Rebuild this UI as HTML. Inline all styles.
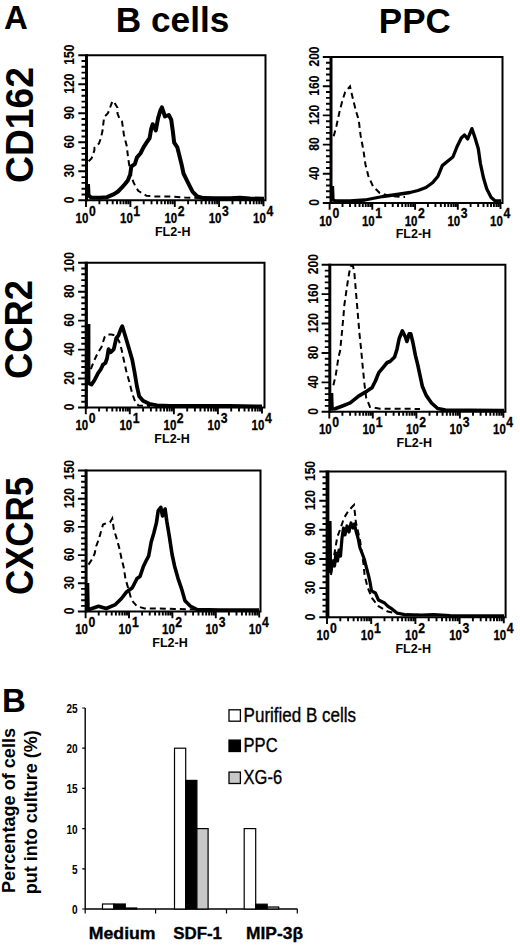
<!DOCTYPE html>
<html><head><meta charset="utf-8"><style>
html,body{margin:0;padding:0;background:#fff;}
body{width:520px;height:951px;overflow:hidden;}
svg{display:block;}
text{font-family:"Liberation Sans", sans-serif;fill:#000;}
</style></head><body>
<svg width="520" height="951" viewBox="0 0 520 951">
<text x="4.0" y="29.2" font-size="33" font-weight="bold" text-anchor="start" >A</text>
<text x="115.8" y="31.6" font-size="35" font-weight="bold" text-anchor="start" textLength="113.5" lengthAdjust="spacingAndGlyphs" >B cells</text>
<text x="378.8" y="33.2" font-size="35" font-weight="bold" text-anchor="start" textLength="72" lengthAdjust="spacingAndGlyphs" >PPC</text>
<text transform="translate(32.8,125) rotate(-90)" font-size="38.5" font-weight="bold" text-anchor="middle" textLength="116" lengthAdjust="spacingAndGlyphs" >CD162</text>
<text transform="translate(31.8,329.5) rotate(-90)" font-size="38.5" font-weight="bold" text-anchor="middle" textLength="99" lengthAdjust="spacingAndGlyphs" >CCR2</text>
<text transform="translate(32.5,536) rotate(-90)" font-size="38.5" font-weight="bold" text-anchor="middle" textLength="118" lengthAdjust="spacingAndGlyphs" >CXCR5</text>
<path d="M86.5,200.3 L265.5,200.3 L265.5,55.2 L86.5,55.2" fill="none" stroke="#000" stroke-width="2"/>
<line x1="86.5" y1="54.2" x2="86.5" y2="201.3" stroke="#000" stroke-width="3.0"/>
<path d="M78.3,200.3H86.5M81.5,194.5H86.5M81.5,188.7H86.5M81.5,182.9H86.5M81.5,177.1H86.5M78.3,171.3H86.5M81.5,165.5H86.5M81.5,159.7H86.5M81.5,153.9H86.5M81.5,148.1H86.5M78.3,142.3H86.5M81.5,136.5H86.5M81.5,130.7H86.5M81.5,124.8H86.5M81.5,119.0H86.5M78.3,113.2H86.5M81.5,107.4H86.5M81.5,101.6H86.5M81.5,95.8H86.5M81.5,90.0H86.5M78.3,84.2H86.5M81.5,78.4H86.5M81.5,72.6H86.5M81.5,66.8H86.5M81.5,61.0H86.5M78.3,55.2H86.5" stroke="#000" stroke-width="1.9" fill="none"/>
<path d="M86.0,200.3V207.10000000000002M99.4,200.3V204.3M107.2,200.3V204.3M112.7,200.3V204.3M117.0,200.3V204.3M120.5,200.3V204.3M123.5,200.3V204.3M126.1,200.3V204.3M128.3,200.3V204.3M130.4,200.3V207.10000000000002M143.7,200.3V204.3M151.5,200.3V204.3M157.1,200.3V204.3M161.4,200.3V204.3M164.9,200.3V204.3M167.9,200.3V204.3M170.4,200.3V204.3M172.7,200.3V204.3M174.8,200.3V207.10000000000002M188.1,200.3V204.3M195.9,200.3V204.3M201.5,200.3V204.3M205.8,200.3V204.3M209.3,200.3V204.3M212.3,200.3V204.3M214.8,200.3V204.3M217.1,200.3V204.3M219.1,200.3V207.10000000000002M232.5,200.3V204.3M240.3,200.3V204.3M245.8,200.3V204.3M250.1,200.3V204.3M253.7,200.3V204.3M256.6,200.3V204.3M259.2,200.3V204.3M261.5,200.3V204.3M263.5,200.3V206.3" stroke="#000" stroke-width="1.9" fill="none"/>
<text transform="translate(73.6,199.8) rotate(-90)" font-size="14.6" font-weight="bold" text-anchor="middle" textLength="6.7" lengthAdjust="spacingAndGlyphs" stroke="#000" stroke-width="0.12">0</text>
<text transform="translate(73.6,170.8) rotate(-90)" font-size="14.6" font-weight="bold" text-anchor="middle" textLength="13.4" lengthAdjust="spacingAndGlyphs" stroke="#000" stroke-width="0.12">30</text>
<text transform="translate(73.6,141.8) rotate(-90)" font-size="14.6" font-weight="bold" text-anchor="middle" textLength="13.4" lengthAdjust="spacingAndGlyphs" stroke="#000" stroke-width="0.12">60</text>
<text transform="translate(73.6,112.7) rotate(-90)" font-size="14.6" font-weight="bold" text-anchor="middle" textLength="13.4" lengthAdjust="spacingAndGlyphs" stroke="#000" stroke-width="0.12">90</text>
<text transform="translate(73.6,83.7) rotate(-90)" font-size="14.6" font-weight="bold" text-anchor="middle" textLength="20.1" lengthAdjust="spacingAndGlyphs" stroke="#000" stroke-width="0.12">120</text>
<text transform="translate(73.6,54.7) rotate(-90)" font-size="14.6" font-weight="bold" text-anchor="middle" textLength="20.1" lengthAdjust="spacingAndGlyphs" stroke="#000" stroke-width="0.12">150</text>
<text x="82.0" y="222.8" font-size="14.3" font-weight="bold" text-anchor="middle" textLength="12.8" lengthAdjust="spacingAndGlyphs" stroke="#000" stroke-width="0.3">10</text>
<text x="88.9" y="215.5" font-size="13.8" font-weight="bold" text-anchor="start" textLength="6.8" lengthAdjust="spacingAndGlyphs" stroke="#000" stroke-width="0.3">0</text>
<text x="126.4" y="222.8" font-size="14.3" font-weight="bold" text-anchor="middle" textLength="12.8" lengthAdjust="spacingAndGlyphs" stroke="#000" stroke-width="0.3">10</text>
<text x="133.3" y="215.5" font-size="13.8" font-weight="bold" text-anchor="start" textLength="6.8" lengthAdjust="spacingAndGlyphs" stroke="#000" stroke-width="0.3">1</text>
<text x="170.8" y="222.8" font-size="14.3" font-weight="bold" text-anchor="middle" textLength="12.8" lengthAdjust="spacingAndGlyphs" stroke="#000" stroke-width="0.3">10</text>
<text x="177.7" y="215.5" font-size="13.8" font-weight="bold" text-anchor="start" textLength="6.8" lengthAdjust="spacingAndGlyphs" stroke="#000" stroke-width="0.3">2</text>
<text x="215.1" y="222.8" font-size="14.3" font-weight="bold" text-anchor="middle" textLength="12.8" lengthAdjust="spacingAndGlyphs" stroke="#000" stroke-width="0.3">10</text>
<text x="222.0" y="215.5" font-size="13.8" font-weight="bold" text-anchor="start" textLength="6.8" lengthAdjust="spacingAndGlyphs" stroke="#000" stroke-width="0.3">3</text>
<text x="259.5" y="222.8" font-size="14.3" font-weight="bold" text-anchor="middle" textLength="12.8" lengthAdjust="spacingAndGlyphs" stroke="#000" stroke-width="0.3">10</text>
<text x="266.4" y="215.5" font-size="13.8" font-weight="bold" text-anchor="start" textLength="6.8" lengthAdjust="spacingAndGlyphs" stroke="#000" stroke-width="0.3">4</text>
<text x="172.7" y="235.7" font-size="12.8" font-weight="bold" text-anchor="middle" textLength="35.5" lengthAdjust="spacingAndGlyphs" >FL2-H</text>
<polyline points="88.6,161.3 91.5,158.5 94.4,150.4 94.4,148 99,143.5 100.7,138.8 102.5,130.8 103.6,121.5 104.2,116.9 107.7,113.5 108.8,111.2 111.7,103.1 113.4,100.8 117.5,107.7 117.5,113.5 119.8,119.2 122,121.5 123.2,129.6 123.8,134.2 125.5,141.2 126.7,145.8 127.8,155 128.4,159.6 129.6,167.7 131.3,175.8 133.6,182.7 138.2,190.8 141,192.5 146.5,195.8 155.8,196.5 171.2,196.5 185,197.5 200,198 215,198.5" fill="none" stroke="#000" stroke-width="2.0" stroke-dasharray="6 4"/>
<polyline points="88,184 88.5,195.4 91,197.5 100,197.8 107,197.2 114,194.2 118,191.5 122,187.3 125,184 127.8,180.4 130.2,174.6 131.3,166.5 134.8,164.2 137,157.3 140.4,153.5 143.5,147.3 146.5,142.7 149.6,138.1 151.2,128.8 152.7,124.2 155.8,130.4 158.1,118.1 160.4,110.4 161.9,107.3 165,116.5 168.8,115 171.2,119.6 172.7,130.4 174.2,142.7 177.3,147.3 179.6,156.5 181.9,165.8 183.5,173.5 186.5,179.6 189.6,185.8 192.7,191.9 197.3,196.5 203.5,198.1 215,198.3 230,198.3 240,197.8 250,198.5 264,198.8" fill="none" stroke="#000" stroke-width="4.0" stroke-linejoin="round" stroke-linecap="butt"/>
<path d="M331.0,203.0 L502.5,203.0 L502.5,57.0 L331.0,57.0" fill="none" stroke="#000" stroke-width="2"/>
<line x1="331.0" y1="56.0" x2="331.0" y2="204.0" stroke="#000" stroke-width="3.0"/>
<path d="M322.8,203.0H331.0M326.0,197.2H331.0M326.0,191.3H331.0M326.0,185.5H331.0M326.0,179.6H331.0M322.8,173.8H331.0M326.0,168.0H331.0M326.0,162.1H331.0M326.0,156.3H331.0M326.0,150.4H331.0M322.8,144.6H331.0M326.0,138.8H331.0M326.0,132.9H331.0M326.0,127.1H331.0M326.0,121.2H331.0M322.8,115.4H331.0M326.0,109.6H331.0M326.0,103.7H331.0M326.0,97.9H331.0M326.0,92.0H331.0M322.8,86.2H331.0M326.0,80.4H331.0M326.0,74.5H331.0M326.0,68.7H331.0M326.0,62.8H331.0M322.8,57.0H331.0" stroke="#000" stroke-width="1.9" fill="none"/>
<path d="M329.6,203.0V209.8M342.5,203.0V207.0M350.0,203.0V207.0M355.3,203.0V207.0M359.5,203.0V207.0M362.8,203.0V207.0M365.7,203.0V207.0M368.2,203.0V207.0M370.4,203.0V207.0M372.3,203.0V209.8M385.2,203.0V207.0M392.7,203.0V207.0M398.0,203.0V207.0M402.2,203.0V207.0M405.6,203.0V207.0M408.4,203.0V207.0M410.9,203.0V207.0M413.1,203.0V207.0M415.1,203.0V209.8M427.9,203.0V207.0M435.4,203.0V207.0M440.8,203.0V207.0M444.9,203.0V207.0M448.3,203.0V207.0M451.2,203.0V207.0M453.6,203.0V207.0M455.8,203.0V207.0M457.8,203.0V209.8M470.6,203.0V207.0M478.2,203.0V207.0M483.5,203.0V207.0M487.6,203.0V207.0M491.0,203.0V207.0M493.9,203.0V207.0M496.4,203.0V207.0M498.5,203.0V207.0M500.5,203.0V209.0" stroke="#000" stroke-width="1.9" fill="none"/>
<text transform="translate(319.3,202.5) rotate(-90)" font-size="14.6" font-weight="bold" text-anchor="middle" textLength="6.7" lengthAdjust="spacingAndGlyphs" stroke="#000" stroke-width="0.12">0</text>
<text transform="translate(319.3,173.3) rotate(-90)" font-size="14.6" font-weight="bold" text-anchor="middle" textLength="13.4" lengthAdjust="spacingAndGlyphs" stroke="#000" stroke-width="0.12">40</text>
<text transform="translate(319.3,144.1) rotate(-90)" font-size="14.6" font-weight="bold" text-anchor="middle" textLength="13.4" lengthAdjust="spacingAndGlyphs" stroke="#000" stroke-width="0.12">80</text>
<text transform="translate(319.3,114.9) rotate(-90)" font-size="14.6" font-weight="bold" text-anchor="middle" textLength="20.1" lengthAdjust="spacingAndGlyphs" stroke="#000" stroke-width="0.12">120</text>
<text transform="translate(319.3,85.7) rotate(-90)" font-size="14.6" font-weight="bold" text-anchor="middle" textLength="20.1" lengthAdjust="spacingAndGlyphs" stroke="#000" stroke-width="0.12">160</text>
<text transform="translate(319.3,56.5) rotate(-90)" font-size="14.6" font-weight="bold" text-anchor="middle" textLength="20.1" lengthAdjust="spacingAndGlyphs" stroke="#000" stroke-width="0.12">200</text>
<text x="325.6" y="225.5" font-size="14.3" font-weight="bold" text-anchor="middle" textLength="12.8" lengthAdjust="spacingAndGlyphs" stroke="#000" stroke-width="0.3">10</text>
<text x="332.5" y="218.2" font-size="13.8" font-weight="bold" text-anchor="start" textLength="6.8" lengthAdjust="spacingAndGlyphs" stroke="#000" stroke-width="0.3">0</text>
<text x="368.3" y="225.5" font-size="14.3" font-weight="bold" text-anchor="middle" textLength="12.8" lengthAdjust="spacingAndGlyphs" stroke="#000" stroke-width="0.3">10</text>
<text x="375.2" y="218.2" font-size="13.8" font-weight="bold" text-anchor="start" textLength="6.8" lengthAdjust="spacingAndGlyphs" stroke="#000" stroke-width="0.3">1</text>
<text x="411.1" y="225.5" font-size="14.3" font-weight="bold" text-anchor="middle" textLength="12.8" lengthAdjust="spacingAndGlyphs" stroke="#000" stroke-width="0.3">10</text>
<text x="417.9" y="218.2" font-size="13.8" font-weight="bold" text-anchor="start" textLength="6.8" lengthAdjust="spacingAndGlyphs" stroke="#000" stroke-width="0.3">2</text>
<text x="453.8" y="225.5" font-size="14.3" font-weight="bold" text-anchor="middle" textLength="12.8" lengthAdjust="spacingAndGlyphs" stroke="#000" stroke-width="0.3">10</text>
<text x="460.7" y="218.2" font-size="13.8" font-weight="bold" text-anchor="start" textLength="6.8" lengthAdjust="spacingAndGlyphs" stroke="#000" stroke-width="0.3">3</text>
<text x="496.5" y="225.5" font-size="14.3" font-weight="bold" text-anchor="middle" textLength="12.8" lengthAdjust="spacingAndGlyphs" stroke="#000" stroke-width="0.3">10</text>
<text x="503.4" y="218.2" font-size="13.8" font-weight="bold" text-anchor="start" textLength="6.8" lengthAdjust="spacingAndGlyphs" stroke="#000" stroke-width="0.3">4</text>
<text x="413.4" y="238.4" font-size="12.8" font-weight="bold" text-anchor="middle" textLength="35.5" lengthAdjust="spacingAndGlyphs" >FL2-H</text>
<polyline points="333.7,136.3 336.5,125.8 339.4,112.3 342.3,100.8 345.2,92 350,86.3 352.9,98.8 355.8,110.4 358.7,120 360.6,135.4 363.5,150.8 365.4,164.2 368.3,175.8 373,186.3 379.8,193 390,196 405,197" fill="none" stroke="#000" stroke-width="2.0" stroke-dasharray="6 4"/>
<polyline points="332.5,186 333,200 336,201 350,201 365,200 382.7,196.5 397,194.5 410,192.5 418,190.5 426,187.5 432.8,182.5 438,176.2 442.3,165.6 447.6,161.3 452.9,157 457.1,146.5 461.3,138 464.5,134.9 467.7,139 471.9,128.6 475.1,138 478.3,148.7 480.4,163.5 483.6,178.3 486.7,188.8 491,197.3 495.2,201 501,201" fill="none" stroke="#000" stroke-width="3.3" stroke-linejoin="round" stroke-linecap="butt"/>
<path d="M86.3,407.5 L264.5,407.5 L264.5,262.7 L86.3,262.7" fill="none" stroke="#000" stroke-width="2"/>
<line x1="86.3" y1="261.7" x2="86.3" y2="408.5" stroke="#000" stroke-width="3.2"/>
<path d="M78.1,407.5H86.3M81.3,401.7H86.3M81.3,395.9H86.3M81.3,390.1H86.3M81.3,384.3H86.3M78.1,378.5H86.3M81.3,372.7H86.3M81.3,367.0H86.3M81.3,361.2H86.3M81.3,355.4H86.3M78.1,349.6H86.3M81.3,343.8H86.3M81.3,338.0H86.3M81.3,332.2H86.3M81.3,326.4H86.3M78.1,320.6H86.3M81.3,314.8H86.3M81.3,309.0H86.3M81.3,303.2H86.3M81.3,297.5H86.3M78.1,291.7H86.3M81.3,285.9H86.3M81.3,280.1H86.3M81.3,274.3H86.3M81.3,268.5H86.3M78.1,262.7H86.3" stroke="#000" stroke-width="1.9" fill="none"/>
<path d="M85.8,407.5V414.3M99.1,407.5V411.5M106.8,407.5V411.5M112.3,407.5V411.5M116.6,407.5V411.5M120.1,407.5V411.5M123.0,407.5V411.5M125.6,407.5V411.5M127.8,407.5V411.5M129.8,407.5V414.3M143.1,407.5V411.5M150.9,407.5V411.5M156.4,407.5V411.5M160.6,407.5V411.5M164.1,407.5V411.5M167.1,407.5V411.5M169.6,407.5V411.5M171.9,407.5V411.5M173.9,407.5V414.3M187.2,407.5V411.5M194.9,407.5V411.5M200.4,407.5V411.5M204.7,407.5V411.5M208.2,407.5V411.5M211.1,407.5V411.5M213.7,407.5V411.5M215.9,407.5V411.5M217.9,407.5V414.3M231.2,407.5V411.5M239.0,407.5V411.5M244.5,407.5V411.5M248.7,407.5V411.5M252.2,407.5V411.5M255.2,407.5V411.5M257.7,407.5V411.5M260.0,407.5V411.5M262.0,407.5V413.5" stroke="#000" stroke-width="1.9" fill="none"/>
<text transform="translate(73.5,407.0) rotate(-90)" font-size="14.6" font-weight="bold" text-anchor="middle" textLength="6.7" lengthAdjust="spacingAndGlyphs" stroke="#000" stroke-width="0.12">0</text>
<text transform="translate(73.5,378.0) rotate(-90)" font-size="14.6" font-weight="bold" text-anchor="middle" textLength="13.4" lengthAdjust="spacingAndGlyphs" stroke="#000" stroke-width="0.12">20</text>
<text transform="translate(73.5,349.1) rotate(-90)" font-size="14.6" font-weight="bold" text-anchor="middle" textLength="13.4" lengthAdjust="spacingAndGlyphs" stroke="#000" stroke-width="0.12">40</text>
<text transform="translate(73.5,320.1) rotate(-90)" font-size="14.6" font-weight="bold" text-anchor="middle" textLength="13.4" lengthAdjust="spacingAndGlyphs" stroke="#000" stroke-width="0.12">60</text>
<text transform="translate(73.5,291.2) rotate(-90)" font-size="14.6" font-weight="bold" text-anchor="middle" textLength="13.4" lengthAdjust="spacingAndGlyphs" stroke="#000" stroke-width="0.12">80</text>
<text transform="translate(73.5,262.2) rotate(-90)" font-size="14.6" font-weight="bold" text-anchor="middle" textLength="20.1" lengthAdjust="spacingAndGlyphs" stroke="#000" stroke-width="0.12">100</text>
<text x="81.8" y="430.0" font-size="14.3" font-weight="bold" text-anchor="middle" textLength="12.8" lengthAdjust="spacingAndGlyphs" stroke="#000" stroke-width="0.3">10</text>
<text x="88.7" y="422.7" font-size="13.8" font-weight="bold" text-anchor="start" textLength="6.8" lengthAdjust="spacingAndGlyphs" stroke="#000" stroke-width="0.3">0</text>
<text x="125.8" y="430.0" font-size="14.3" font-weight="bold" text-anchor="middle" textLength="12.8" lengthAdjust="spacingAndGlyphs" stroke="#000" stroke-width="0.3">10</text>
<text x="132.8" y="422.7" font-size="13.8" font-weight="bold" text-anchor="start" textLength="6.8" lengthAdjust="spacingAndGlyphs" stroke="#000" stroke-width="0.3">1</text>
<text x="169.9" y="430.0" font-size="14.3" font-weight="bold" text-anchor="middle" textLength="12.8" lengthAdjust="spacingAndGlyphs" stroke="#000" stroke-width="0.3">10</text>
<text x="176.8" y="422.7" font-size="13.8" font-weight="bold" text-anchor="start" textLength="6.8" lengthAdjust="spacingAndGlyphs" stroke="#000" stroke-width="0.3">2</text>
<text x="213.9" y="430.0" font-size="14.3" font-weight="bold" text-anchor="middle" textLength="12.8" lengthAdjust="spacingAndGlyphs" stroke="#000" stroke-width="0.3">10</text>
<text x="220.8" y="422.7" font-size="13.8" font-weight="bold" text-anchor="start" textLength="6.8" lengthAdjust="spacingAndGlyphs" stroke="#000" stroke-width="0.3">3</text>
<text x="258.0" y="430.0" font-size="14.3" font-weight="bold" text-anchor="middle" textLength="12.8" lengthAdjust="spacingAndGlyphs" stroke="#000" stroke-width="0.3">10</text>
<text x="264.9" y="422.7" font-size="13.8" font-weight="bold" text-anchor="start" textLength="6.8" lengthAdjust="spacingAndGlyphs" stroke="#000" stroke-width="0.3">4</text>
<text x="172.1" y="442.9" font-size="12.8" font-weight="bold" text-anchor="middle" textLength="35.5" lengthAdjust="spacingAndGlyphs" >FL2-H</text>
<polyline points="90.8,369.2 93.8,361.5 97.7,353 101.5,347 104.6,337 107,334.6 111.5,334.6 115.4,335.4 119.2,341.5 121.5,349.2 123.8,360 126.2,370.8 129.2,381.5 132.3,393.8 135.4,402.3 138.5,405.4 150,406" fill="none" stroke="#000" stroke-width="2.0" stroke-dasharray="6 4"/>
<polyline points="88.5,324 88.5,383 91.5,384.6 94.6,380 97.7,373.8 100.8,369.2 103,364.6 105.4,363 107,358.5 108.5,349.2 110.8,352.3 113.8,349.2 116.2,338.5 118.5,335.4 120.8,329.2 122.3,326.2 124.6,333.8 126.9,341.5 129.2,349.2 132.3,360 134.6,372.3 136.9,386.2 139.2,396.2 143,400.8 149.2,403.8 157,405.4 170,405.8 200,406 230,406 262,406.5" fill="none" stroke="#000" stroke-width="3.8" stroke-linejoin="round" stroke-linecap="butt"/>
<path d="M329.8,411.8 L505.4,411.8 L505.4,264.7 L329.8,264.7" fill="none" stroke="#000" stroke-width="2"/>
<line x1="329.8" y1="263.7" x2="329.8" y2="412.8" stroke="#000" stroke-width="3.0"/>
<path d="M321.6,411.8H329.8M324.8,405.9H329.8M324.8,400.0H329.8M324.8,394.1H329.8M324.8,388.3H329.8M321.6,382.4H329.8M324.8,376.5H329.8M324.8,370.6H329.8M324.8,364.7H329.8M324.8,358.8H329.8M321.6,353.0H329.8M324.8,347.1H329.8M324.8,341.2H329.8M324.8,335.3H329.8M324.8,329.4H329.8M321.6,323.5H329.8M324.8,317.7H329.8M324.8,311.8H329.8M324.8,305.9H329.8M324.8,300.0H329.8M321.6,294.1H329.8M324.8,288.2H329.8M324.8,282.4H329.8M324.8,276.5H329.8M324.8,270.6H329.8M321.6,264.7H329.8" stroke="#000" stroke-width="1.9" fill="none"/>
<path d="M329.3,411.8V418.6M342.4,411.8V415.8M350.1,411.8V415.8M355.5,411.8V415.8M359.7,411.8V415.8M363.2,411.8V415.8M366.1,411.8V415.8M368.6,411.8V415.8M370.8,411.8V415.8M372.8,411.8V418.6M385.9,411.8V415.8M393.6,411.8V415.8M399.0,411.8V415.8M403.2,411.8V415.8M406.7,411.8V415.8M409.6,411.8V415.8M412.1,411.8V415.8M414.4,411.8V415.8M416.4,411.8V418.6M429.5,411.8V415.8M437.1,411.8V415.8M442.6,411.8V415.8M446.8,411.8V415.8M450.2,411.8V415.8M453.1,411.8V415.8M455.7,411.8V415.8M457.9,411.8V415.8M459.9,411.8V418.6M473.0,411.8V415.8M480.6,411.8V415.8M486.1,411.8V415.8M490.3,411.8V415.8M493.7,411.8V415.8M496.7,411.8V415.8M499.2,411.8V415.8M501.4,411.8V415.8M503.4,411.8V417.8" stroke="#000" stroke-width="1.9" fill="none"/>
<text transform="translate(318.2,411.3) rotate(-90)" font-size="14.6" font-weight="bold" text-anchor="middle" textLength="6.7" lengthAdjust="spacingAndGlyphs" stroke="#000" stroke-width="0.12">0</text>
<text transform="translate(318.2,381.9) rotate(-90)" font-size="14.6" font-weight="bold" text-anchor="middle" textLength="13.4" lengthAdjust="spacingAndGlyphs" stroke="#000" stroke-width="0.12">40</text>
<text transform="translate(318.2,352.5) rotate(-90)" font-size="14.6" font-weight="bold" text-anchor="middle" textLength="13.4" lengthAdjust="spacingAndGlyphs" stroke="#000" stroke-width="0.12">80</text>
<text transform="translate(318.2,323.0) rotate(-90)" font-size="14.6" font-weight="bold" text-anchor="middle" textLength="20.1" lengthAdjust="spacingAndGlyphs" stroke="#000" stroke-width="0.12">120</text>
<text transform="translate(318.2,293.6) rotate(-90)" font-size="14.6" font-weight="bold" text-anchor="middle" textLength="20.1" lengthAdjust="spacingAndGlyphs" stroke="#000" stroke-width="0.12">160</text>
<text transform="translate(318.2,264.2) rotate(-90)" font-size="14.6" font-weight="bold" text-anchor="middle" textLength="20.1" lengthAdjust="spacingAndGlyphs" stroke="#000" stroke-width="0.12">200</text>
<text x="325.3" y="434.3" font-size="14.3" font-weight="bold" text-anchor="middle" textLength="12.8" lengthAdjust="spacingAndGlyphs" stroke="#000" stroke-width="0.3">10</text>
<text x="332.2" y="427.0" font-size="13.8" font-weight="bold" text-anchor="start" textLength="6.8" lengthAdjust="spacingAndGlyphs" stroke="#000" stroke-width="0.3">0</text>
<text x="368.8" y="434.3" font-size="14.3" font-weight="bold" text-anchor="middle" textLength="12.8" lengthAdjust="spacingAndGlyphs" stroke="#000" stroke-width="0.3">10</text>
<text x="375.7" y="427.0" font-size="13.8" font-weight="bold" text-anchor="start" textLength="6.8" lengthAdjust="spacingAndGlyphs" stroke="#000" stroke-width="0.3">1</text>
<text x="412.4" y="434.3" font-size="14.3" font-weight="bold" text-anchor="middle" textLength="12.8" lengthAdjust="spacingAndGlyphs" stroke="#000" stroke-width="0.3">10</text>
<text x="419.2" y="427.0" font-size="13.8" font-weight="bold" text-anchor="start" textLength="6.8" lengthAdjust="spacingAndGlyphs" stroke="#000" stroke-width="0.3">2</text>
<text x="455.9" y="434.3" font-size="14.3" font-weight="bold" text-anchor="middle" textLength="12.8" lengthAdjust="spacingAndGlyphs" stroke="#000" stroke-width="0.3">10</text>
<text x="462.8" y="427.0" font-size="13.8" font-weight="bold" text-anchor="start" textLength="6.8" lengthAdjust="spacingAndGlyphs" stroke="#000" stroke-width="0.3">3</text>
<text x="499.4" y="434.3" font-size="14.3" font-weight="bold" text-anchor="middle" textLength="12.8" lengthAdjust="spacingAndGlyphs" stroke="#000" stroke-width="0.3">10</text>
<text x="506.3" y="427.0" font-size="13.8" font-weight="bold" text-anchor="start" textLength="6.8" lengthAdjust="spacingAndGlyphs" stroke="#000" stroke-width="0.3">4</text>
<text x="414.3" y="447.2" font-size="12.8" font-weight="bold" text-anchor="middle" textLength="35.5" lengthAdjust="spacingAndGlyphs" >FL2-H</text>
<polyline points="333.4,385.2 335.9,374.3 338.4,357.5 340.1,350.8 341.8,334 343.5,315.5 344.3,305.4 346,293.6 347.7,281.8 349.4,271.8 351,265.9 353,266 354.4,273.4 356.1,293.6 357.8,313.8 359.5,334 361.1,349 362.8,367.6 364.5,384.4 366.2,397.8 370,407 380,408.7 400,408.7 420,409" fill="none" stroke="#000" stroke-width="2.0" stroke-dasharray="6 4"/>
<polyline points="331.5,393 332,409 335,408.7 341.8,406.2 350.2,402.9 358.6,396.1 367,391.1 372,387.7 375.4,381 378.8,372.6 383,367.6 387.2,362.5 390,361.5 394.6,357 397,349.2 399.2,338.5 402.3,330.8 405.4,337 406.9,341.5 409.2,333.8 410.8,333.8 413,343 415.4,355.4 417.7,364.6 420,375.4 422.3,386.2 426.2,395.4 431.5,403 437.7,408.5 445.4,410 470,410.3 504,410.5" fill="none" stroke="#000" stroke-width="3.6" stroke-linejoin="round" stroke-linecap="butt"/>
<path d="M86.1,611.5 L260.5,611.5 L260.5,470.5 L86.1,470.5" fill="none" stroke="#000" stroke-width="2"/>
<line x1="86.1" y1="469.5" x2="86.1" y2="612.5" stroke="#000" stroke-width="3.0"/>
<path d="M77.9,611.5H86.1M81.1,605.9H86.1M81.1,600.2H86.1M81.1,594.6H86.1M81.1,588.9H86.1M77.9,583.3H86.1M81.1,577.7H86.1M81.1,572.0H86.1M81.1,566.4H86.1M81.1,560.7H86.1M77.9,555.1H86.1M81.1,549.5H86.1M81.1,543.8H86.1M81.1,538.2H86.1M81.1,532.5H86.1M77.9,526.9H86.1M81.1,521.3H86.1M81.1,515.6H86.1M81.1,510.0H86.1M81.1,504.3H86.1M77.9,498.7H86.1M81.1,493.1H86.1M81.1,487.4H86.1M81.1,481.8H86.1M81.1,476.1H86.1M77.9,470.5H86.1" stroke="#000" stroke-width="1.9" fill="none"/>
<path d="M85.6,611.5V618.3M98.7,611.5V615.5M106.3,611.5V615.5M111.7,611.5V615.5M115.9,611.5V615.5M119.4,611.5V615.5M122.3,611.5V615.5M124.8,611.5V615.5M127.0,611.5V615.5M129.0,611.5V618.3M142.1,611.5V615.5M149.7,611.5V615.5M155.1,611.5V615.5M159.3,611.5V615.5M162.8,611.5V615.5M165.7,611.5V615.5M168.2,611.5V615.5M170.4,611.5V615.5M172.4,611.5V618.3M185.5,611.5V615.5M193.1,611.5V615.5M198.5,611.5V615.5M202.7,611.5V615.5M206.2,611.5V615.5M209.1,611.5V615.5M211.6,611.5V615.5M213.8,611.5V615.5M215.8,611.5V618.3M228.9,611.5V615.5M236.5,611.5V615.5M241.9,611.5V615.5M246.1,611.5V615.5M249.6,611.5V615.5M252.5,611.5V615.5M255.0,611.5V615.5M257.2,611.5V615.5M259.2,611.5V617.5" stroke="#000" stroke-width="1.9" fill="none"/>
<text transform="translate(74.4,611.0) rotate(-90)" font-size="14.6" font-weight="bold" text-anchor="middle" textLength="6.7" lengthAdjust="spacingAndGlyphs" stroke="#000" stroke-width="0.12">0</text>
<text transform="translate(74.4,582.8) rotate(-90)" font-size="14.6" font-weight="bold" text-anchor="middle" textLength="13.4" lengthAdjust="spacingAndGlyphs" stroke="#000" stroke-width="0.12">30</text>
<text transform="translate(74.4,554.6) rotate(-90)" font-size="14.6" font-weight="bold" text-anchor="middle" textLength="13.4" lengthAdjust="spacingAndGlyphs" stroke="#000" stroke-width="0.12">60</text>
<text transform="translate(74.4,526.4) rotate(-90)" font-size="14.6" font-weight="bold" text-anchor="middle" textLength="13.4" lengthAdjust="spacingAndGlyphs" stroke="#000" stroke-width="0.12">90</text>
<text transform="translate(74.4,498.2) rotate(-90)" font-size="14.6" font-weight="bold" text-anchor="middle" textLength="20.1" lengthAdjust="spacingAndGlyphs" stroke="#000" stroke-width="0.12">120</text>
<text transform="translate(74.4,470.0) rotate(-90)" font-size="14.6" font-weight="bold" text-anchor="middle" textLength="20.1" lengthAdjust="spacingAndGlyphs" stroke="#000" stroke-width="0.12">150</text>
<text x="81.6" y="634.0" font-size="14.3" font-weight="bold" text-anchor="middle" textLength="12.8" lengthAdjust="spacingAndGlyphs" stroke="#000" stroke-width="0.3">10</text>
<text x="88.5" y="626.7" font-size="13.8" font-weight="bold" text-anchor="start" textLength="6.8" lengthAdjust="spacingAndGlyphs" stroke="#000" stroke-width="0.3">0</text>
<text x="125.0" y="634.0" font-size="14.3" font-weight="bold" text-anchor="middle" textLength="12.8" lengthAdjust="spacingAndGlyphs" stroke="#000" stroke-width="0.3">10</text>
<text x="131.9" y="626.7" font-size="13.8" font-weight="bold" text-anchor="start" textLength="6.8" lengthAdjust="spacingAndGlyphs" stroke="#000" stroke-width="0.3">1</text>
<text x="168.4" y="634.0" font-size="14.3" font-weight="bold" text-anchor="middle" textLength="12.8" lengthAdjust="spacingAndGlyphs" stroke="#000" stroke-width="0.3">10</text>
<text x="175.3" y="626.7" font-size="13.8" font-weight="bold" text-anchor="start" textLength="6.8" lengthAdjust="spacingAndGlyphs" stroke="#000" stroke-width="0.3">2</text>
<text x="211.8" y="634.0" font-size="14.3" font-weight="bold" text-anchor="middle" textLength="12.8" lengthAdjust="spacingAndGlyphs" stroke="#000" stroke-width="0.3">10</text>
<text x="218.7" y="626.7" font-size="13.8" font-weight="bold" text-anchor="start" textLength="6.8" lengthAdjust="spacingAndGlyphs" stroke="#000" stroke-width="0.3">3</text>
<text x="255.2" y="634.0" font-size="14.3" font-weight="bold" text-anchor="middle" textLength="12.8" lengthAdjust="spacingAndGlyphs" stroke="#000" stroke-width="0.3">10</text>
<text x="262.1" y="626.7" font-size="13.8" font-weight="bold" text-anchor="start" textLength="6.8" lengthAdjust="spacingAndGlyphs" stroke="#000" stroke-width="0.3">4</text>
<text x="170.0" y="646.9" font-size="12.8" font-weight="bold" text-anchor="middle" textLength="35.5" lengthAdjust="spacingAndGlyphs" >FL2-H</text>
<polyline points="88.5,564.6 91.5,560 94.6,553.8 96.2,546.2 98.5,540 100.8,532.3 103,524.6 107,523 110,522.3 112.3,518.5 113.8,529.2 116.2,537 119.2,547.7 121.5,558.5 123.8,567.7 125.4,578.5 128.5,589.2 131.5,600 137,606.2 144.6,608.5 155.4,608.5 175,609 200,609.5" fill="none" stroke="#000" stroke-width="2.0" stroke-dasharray="6 4"/>
<polyline points="87.5,583 88,610 92,608.5 98.5,606.2 106.2,608.5 115.4,604.6 121.5,598.5 126.2,592.3 132.3,587.7 137,578.5 140,576.5 143.5,566.2 146,561 148.7,555.8 151.2,542 153.8,533.3 156.4,522.9 158.2,510.8 160.8,507.3 162.5,516 165.1,509 166.8,521.2 169.4,536.7 172,554 174.6,566.2 178,578.3 181.5,588.6 185,600.8 190.2,606 197.1,609.5 220,610 259,610" fill="none" stroke="#000" stroke-width="3.6" stroke-linejoin="round" stroke-linecap="butt"/>
<path d="M327.5,617.3 L505.6,617.3 L505.6,471.5 L327.5,471.5" fill="none" stroke="#000" stroke-width="2"/>
<line x1="327.5" y1="470.5" x2="327.5" y2="618.3" stroke="#000" stroke-width="3.8"/>
<path d="M319.3,617.3H327.5M322.5,611.5H327.5M322.5,605.6H327.5M322.5,599.8H327.5M322.5,594.0H327.5M319.3,588.1H327.5M322.5,582.3H327.5M322.5,576.5H327.5M322.5,570.6H327.5M322.5,564.8H327.5M319.3,559.0H327.5M322.5,553.1H327.5M322.5,547.3H327.5M322.5,541.5H327.5M322.5,535.7H327.5M319.3,529.8H327.5M322.5,524.0H327.5M322.5,518.2H327.5M322.5,512.3H327.5M322.5,506.5H327.5M319.3,500.7H327.5M322.5,494.8H327.5M322.5,489.0H327.5M322.5,483.2H327.5M322.5,477.3H327.5M319.3,471.5H327.5" stroke="#000" stroke-width="1.9" fill="none"/>
<path d="M327.0,617.3V624.0999999999999M340.3,617.3V621.3M348.1,617.3V621.3M353.6,617.3V621.3M357.9,617.3V621.3M361.4,617.3V621.3M364.4,617.3V621.3M366.9,617.3V621.3M369.2,617.3V621.3M371.2,617.3V624.0999999999999M384.5,617.3V621.3M392.3,617.3V621.3M397.8,617.3V621.3M402.1,617.3V621.3M405.6,617.3V621.3M408.6,617.3V621.3M411.1,617.3V621.3M413.4,617.3V621.3M415.4,617.3V624.0999999999999M428.7,617.3V621.3M436.5,617.3V621.3M442.0,617.3V621.3M446.3,617.3V621.3M449.8,617.3V621.3M452.8,617.3V621.3M455.3,617.3V621.3M457.6,617.3V621.3M459.6,617.3V624.0999999999999M472.9,617.3V621.3M480.7,617.3V621.3M486.2,617.3V621.3M490.5,617.3V621.3M494.0,617.3V621.3M497.0,617.3V621.3M499.5,617.3V621.3M501.8,617.3V621.3M503.8,617.3V623.3" stroke="#000" stroke-width="1.9" fill="none"/>
<text transform="translate(315.4,616.8) rotate(-90)" font-size="14.6" font-weight="bold" text-anchor="middle" textLength="6.7" lengthAdjust="spacingAndGlyphs" stroke="#000" stroke-width="0.12">0</text>
<text transform="translate(315.4,587.6) rotate(-90)" font-size="14.6" font-weight="bold" text-anchor="middle" textLength="13.4" lengthAdjust="spacingAndGlyphs" stroke="#000" stroke-width="0.12">30</text>
<text transform="translate(315.4,558.5) rotate(-90)" font-size="14.6" font-weight="bold" text-anchor="middle" textLength="13.4" lengthAdjust="spacingAndGlyphs" stroke="#000" stroke-width="0.12">60</text>
<text transform="translate(315.4,529.3) rotate(-90)" font-size="14.6" font-weight="bold" text-anchor="middle" textLength="13.4" lengthAdjust="spacingAndGlyphs" stroke="#000" stroke-width="0.12">90</text>
<text transform="translate(315.4,500.2) rotate(-90)" font-size="14.6" font-weight="bold" text-anchor="middle" textLength="20.1" lengthAdjust="spacingAndGlyphs" stroke="#000" stroke-width="0.12">120</text>
<text transform="translate(315.4,471.0) rotate(-90)" font-size="14.6" font-weight="bold" text-anchor="middle" textLength="20.1" lengthAdjust="spacingAndGlyphs" stroke="#000" stroke-width="0.12">150</text>
<text x="323.0" y="639.8" font-size="14.3" font-weight="bold" text-anchor="middle" textLength="12.8" lengthAdjust="spacingAndGlyphs" stroke="#000" stroke-width="0.3">10</text>
<text x="329.9" y="632.5" font-size="13.8" font-weight="bold" text-anchor="start" textLength="6.8" lengthAdjust="spacingAndGlyphs" stroke="#000" stroke-width="0.3">0</text>
<text x="367.2" y="639.8" font-size="14.3" font-weight="bold" text-anchor="middle" textLength="12.8" lengthAdjust="spacingAndGlyphs" stroke="#000" stroke-width="0.3">10</text>
<text x="374.1" y="632.5" font-size="13.8" font-weight="bold" text-anchor="start" textLength="6.8" lengthAdjust="spacingAndGlyphs" stroke="#000" stroke-width="0.3">1</text>
<text x="411.4" y="639.8" font-size="14.3" font-weight="bold" text-anchor="middle" textLength="12.8" lengthAdjust="spacingAndGlyphs" stroke="#000" stroke-width="0.3">10</text>
<text x="418.3" y="632.5" font-size="13.8" font-weight="bold" text-anchor="start" textLength="6.8" lengthAdjust="spacingAndGlyphs" stroke="#000" stroke-width="0.3">2</text>
<text x="455.6" y="639.8" font-size="14.3" font-weight="bold" text-anchor="middle" textLength="12.8" lengthAdjust="spacingAndGlyphs" stroke="#000" stroke-width="0.3">10</text>
<text x="462.5" y="632.5" font-size="13.8" font-weight="bold" text-anchor="start" textLength="6.8" lengthAdjust="spacingAndGlyphs" stroke="#000" stroke-width="0.3">3</text>
<text x="499.8" y="639.8" font-size="14.3" font-weight="bold" text-anchor="middle" textLength="12.8" lengthAdjust="spacingAndGlyphs" stroke="#000" stroke-width="0.3">10</text>
<text x="506.7" y="632.5" font-size="13.8" font-weight="bold" text-anchor="start" textLength="6.8" lengthAdjust="spacingAndGlyphs" stroke="#000" stroke-width="0.3">4</text>
<text x="413.2" y="652.7" font-size="12.8" font-weight="bold" text-anchor="middle" textLength="35.5" lengthAdjust="spacingAndGlyphs" >FL2-H</text>
<polyline points="331,575 333.5,559 337.3,537 341,527 344,518 348,511.5 352,507 354,505 355,514 356,523 360,540 363.5,564 364.6,575.4 367.7,587.7 372.3,598.5 378.5,606.2 387.7,611.5 400,614 420,615" fill="none" stroke="#000" stroke-width="2.0" stroke-dasharray="6 4"/>
<polyline points="330,521 330.5,572 333,562 334.5,566 336,553 337.5,561 339,550 340.5,556 342,538 343.5,528 345,535 347,526 349,532 351,523 353,528 354.5,524 356,531 358,538 360,548 362,553 364.6,560 366,566 368.5,575.4 370,582 371.5,590.8 375.4,593 378.5,600 384.6,603 387.7,606.2 392.3,609.2 397,613 404.6,614.6 421.5,615 433.8,614.6 450,615.5 504,615.8" fill="none" stroke="#000" stroke-width="3.2" stroke-linejoin="round" stroke-linecap="butt"/>
<text x="2.0" y="711.5" font-size="33" font-weight="bold" text-anchor="start" >B</text>
<text transform="translate(15.2,810.5) rotate(-90)" font-size="18" font-weight="bold" text-anchor="middle" textLength="165" lengthAdjust="spacingAndGlyphs" >Percentage of cells</text>
<text transform="translate(37.2,812.3) rotate(-90)" font-size="18" font-weight="bold" text-anchor="middle" textLength="164" lengthAdjust="spacingAndGlyphs" >put into culture (%)</text>
<line x1="85.2" y1="909.5" x2="85.2" y2="708.0" stroke="#000" stroke-width="1.4"/>
<line x1="85.2" y1="909.0" x2="297.5" y2="909.0" stroke="#000" stroke-width="1.3"/>
<path d="M82.2,909.0H85.2M82.2,868.8H85.2M82.2,828.6H85.2M82.2,788.4H85.2M82.2,748.2H85.2M82.2,708.0H85.2M85.2,909.0V913.5M155.6,909.0V913.5M226.5,909.0V913.5M297.3,909.0V913.5" stroke="#000" stroke-width="1.2" fill="none"/>
<text x="77.6" y="914.0" font-size="13" font-weight="bold" text-anchor="end" textLength="5.6" lengthAdjust="spacingAndGlyphs" >0</text>
<text x="77.6" y="873.8" font-size="13" font-weight="bold" text-anchor="end" textLength="5.6" lengthAdjust="spacingAndGlyphs" >5</text>
<text x="77.6" y="833.6" font-size="13" font-weight="bold" text-anchor="end" textLength="11.2" lengthAdjust="spacingAndGlyphs" >10</text>
<text x="77.6" y="793.4" font-size="13" font-weight="bold" text-anchor="end" textLength="11.2" lengthAdjust="spacingAndGlyphs" >15</text>
<text x="77.6" y="753.2" font-size="13" font-weight="bold" text-anchor="end" textLength="11.2" lengthAdjust="spacingAndGlyphs" >20</text>
<text x="77.6" y="713.0" font-size="13" font-weight="bold" text-anchor="end" textLength="11.2" lengthAdjust="spacingAndGlyphs" >25</text>
<rect x="102.5" y="904.0" width="11.4" height="5.0" fill="#fff" stroke="#000" stroke-width="1.2"/>
<rect x="113.9" y="904.0" width="11.4" height="5.0" fill="#000" stroke="#000" stroke-width="1.2"/>
<rect x="125.3" y="908.0" width="11.4" height="1.0" fill="#c8c8c8" stroke="#000" stroke-width="1.2"/>
<rect x="174.5" y="748.2" width="11.2" height="160.8" fill="#fff" stroke="#000" stroke-width="1.2"/>
<rect x="185.7" y="780.4" width="11.2" height="128.6" fill="#000" stroke="#000" stroke-width="1.2"/>
<rect x="196.9" y="828.6" width="11.2" height="80.4" fill="#c8c8c8" stroke="#000" stroke-width="1.2"/>
<rect x="244.2" y="828.6" width="11.5" height="80.4" fill="#fff" stroke="#000" stroke-width="1.2"/>
<rect x="255.7" y="904.2" width="11.5" height="4.8" fill="#000" stroke="#000" stroke-width="1.2"/>
<rect x="267.2" y="907.0" width="11.5" height="2.0" fill="#c8c8c8" stroke="#000" stroke-width="1.2"/>
<text x="122.2" y="939.2" font-size="17.3" font-weight="bold" text-anchor="middle" textLength="66.8" lengthAdjust="spacingAndGlyphs" stroke="#000" stroke-width="0.35">Medium</text>
<text x="197.6" y="939.2" font-size="17.3" font-weight="bold" text-anchor="middle" textLength="48.8" lengthAdjust="spacingAndGlyphs" stroke="#000" stroke-width="0.35">SDF-1</text>
<text x="246.0" y="939.2" font-size="17.3" font-weight="bold" text-anchor="start" textLength="57" lengthAdjust="spacingAndGlyphs" stroke="#000" stroke-width="0.35">MIP-3&#946;</text>
<rect x="229" y="709.8000000000001" width="11.4" height="11.4" fill="#fff" stroke="#000" stroke-width="1.3"/>
<text x="243.6" y="721.8000000000001" font-size="19.5" font-weight="normal" text-anchor="start" textLength="112.5" lengthAdjust="spacingAndGlyphs" stroke="#000" stroke-width="0.35">Purified B cells</text>
<rect x="229" y="740.1" width="11.4" height="11.4" fill="#000" stroke="#000" stroke-width="1.3"/>
<text x="243.6" y="752.1" font-size="19.5" font-weight="normal" text-anchor="start" textLength="34" lengthAdjust="spacingAndGlyphs" stroke="#000" stroke-width="0.35">PPC</text>
<rect x="229" y="772.1" width="11.4" height="11.4" fill="#c8c8c8" stroke="#000" stroke-width="1.3"/>
<text x="243.6" y="784.1" font-size="19.5" font-weight="normal" text-anchor="start" textLength="38.5" lengthAdjust="spacingAndGlyphs" stroke="#000" stroke-width="0.35">XG-6</text>
</svg></body></html>
